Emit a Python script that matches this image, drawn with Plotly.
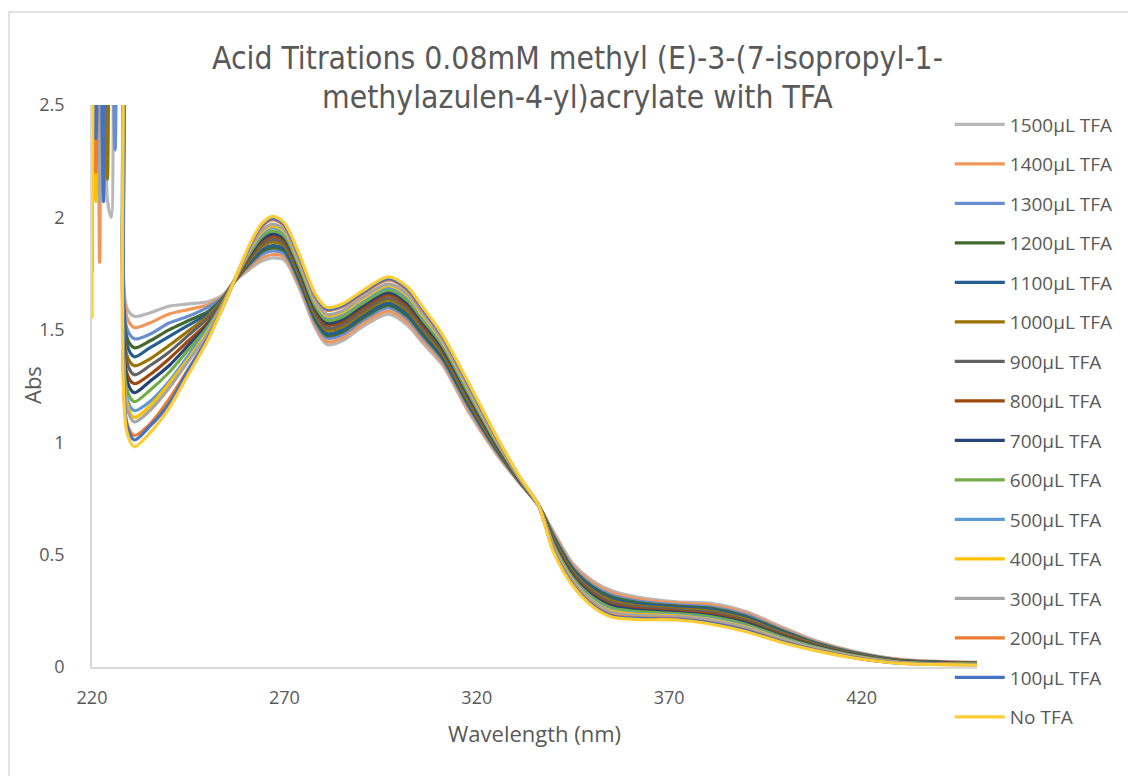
import plotly.graph_objects as go

# Wavelength grid (nm); 220-228 is the noisy solvent cut-off region
wavelength_nm = [220, 221, 222, 223, 224, 225, 226, 227, 228,
                 229, 231, 235, 240, 245, 250, 254, 257, 261, 264, 267, 270, 274, 278, 281, 285,
                 290, 297, 302, 306, 311, 318, 325, 331, 336, 340, 345, 350, 355, 362, 372, 381,
                 390, 399, 408, 418, 430, 450]

# Absorbance for each amount of TFA added
abs_1500 = [3.05, 3.0, 3.1, 3.05, 2.08, 2.0, 3.05, 2.95, 2.9,
            1.60, 1.56, 1.575, 1.605, 1.615, 1.625, 1.655, 1.715, 1.77, 1.805, 1.82, 1.81, 1.68, 1.51, 1.435, 1.45,
            1.51, 1.57, 1.52, 1.44, 1.345, 1.13, 0.95, 0.82, 0.72, 0.60, 0.46, 0.385, 0.34, 0.31, 0.29, 0.283,
            0.247, 0.18, 0.118, 0.07, 0.034, 0.021]
abs_1400 = [3.0, 3.1, 1.80, 3.05, 3.0, 3.1, 2.95, 3.0, 2.9,
            1.56, 1.51, 1.53, 1.57, 1.59, 1.61, 1.65, 1.715, 1.779, 1.818, 1.835, 1.823, 1.692, 1.522, 1.448, 1.463,
            1.523, 1.583, 1.534, 1.453, 1.356, 1.14, 0.956, 0.822, 0.72, 0.593, 0.452, 0.376, 0.331, 0.302, 0.284, 0.276,
            0.24, 0.174, 0.114, 0.068, 0.033, 0.02]
abs_1300 = [3.1, 3.0, 3.05, 2.95, 3.1, 3.0, 2.3, 2.95, 2.9,
            1.51, 1.46, 1.48, 1.53, 1.56, 1.60, 1.645, 1.715, 1.789, 1.833, 1.851, 1.838, 1.705, 1.535, 1.463, 1.478,
            1.537, 1.598, 1.549, 1.467, 1.368, 1.152, 0.964, 0.825, 0.72, 0.585, 0.443, 0.365, 0.32, 0.293, 0.276, 0.267,
            0.232, 0.168, 0.11, 0.065, 0.031, 0.019]
abs_1200 = [3.0, 3.05, 2.95, 3.1, 3.0, 3.05, 2.95, 3.1, 2.9,
            1.47, 1.42, 1.45, 1.50, 1.54, 1.58, 1.64, 1.715, 1.796, 1.845, 1.864, 1.85, 1.716, 1.546, 1.475, 1.49,
            1.548, 1.61, 1.561, 1.478, 1.377, 1.161, 0.969, 0.827, 0.72, 0.578, 0.436, 0.357, 0.312, 0.286, 0.271, 0.261,
            0.225, 0.163, 0.107, 0.063, 0.03, 0.018]
abs_1100 = [3.05, 2.95, 3.1, 3.0, 3.05, 2.95, 3.1, 3.0, 2.9,
            1.44, 1.38, 1.42, 1.47, 1.52, 1.57, 1.64, 1.715, 1.803, 1.854, 1.875, 1.859, 1.725, 1.555, 1.484, 1.499,
            1.558, 1.619, 1.571, 1.488, 1.385, 1.169, 0.974, 0.829, 0.72, 0.573, 0.43, 0.351, 0.305, 0.28, 0.266, 0.255,
            0.22, 0.159, 0.105, 0.061, 0.029, 0.017]
abs_1000 = [3.0, 3.1, 3.0, 3.05, 2.17, 3.1, 3.0, 2.95, 2.9,
            1.39, 1.34, 1.37, 1.43, 1.495, 1.56, 1.635, 1.715, 1.812, 1.868, 1.89, 1.873, 1.737, 1.567, 1.498, 1.513,
            1.571, 1.633, 1.585, 1.501, 1.396, 1.179, 0.98, 0.831, 0.72, 0.566, 0.422, 0.341, 0.295, 0.272, 0.259, 0.248,
            0.213, 0.153, 0.101, 0.059, 0.027, 0.016]
abs_900 = [3.1, 3.0, 2.95, 3.05, 3.1, 3.0, 2.95, 3.05, 2.9,
           1.36, 1.30, 1.34, 1.40, 1.475, 1.55, 1.63, 1.715, 1.819, 1.878, 1.902, 1.883, 1.747, 1.577, 1.508, 1.523,
           1.581, 1.643, 1.596, 1.511, 1.405, 1.188, 0.986, 0.833, 0.72, 0.56, 0.416, 0.334, 0.287, 0.266, 0.254, 0.242,
           0.207, 0.149, 0.098, 0.057, 0.026, 0.016]
abs_800 = [3.0, 3.05, 3.1, 2.95, 3.0, 3.05, 3.1, 3.0, 2.9,
           1.31, 1.26, 1.30, 1.37, 1.45, 1.53, 1.625, 1.715, 1.827, 1.891, 1.916, 1.896, 1.758, 1.588, 1.521, 1.536,
           1.593, 1.656, 1.608, 1.523, 1.415, 1.198, 0.992, 0.836, 0.72, 0.553, 0.408, 0.325, 0.279, 0.259, 0.248, 0.235,
           0.2, 0.144, 0.095, 0.054, 0.025, 0.015]
abs_700 = [1.76, 3.05, 3.0, 3.1, 2.95, 3.0, 3.1, 3.0, 2.9,
           1.28, 1.22, 1.27, 1.34, 1.43, 1.52, 1.62, 1.72, 1.834, 1.901, 1.927, 1.906, 1.767, 1.597, 1.531, 1.546,
           1.603, 1.666, 1.619, 1.533, 1.423, 1.205, 0.996, 0.837, 0.72, 0.548, 0.402, 0.318, 0.272, 0.253, 0.243, 0.229,
           0.195, 0.139, 0.092, 0.053, 0.024, 0.014]
abs_600 = [3.05, 3.0, 3.1, 3.0, 2.95, 3.1, 3.0, 3.05, 2.9,
           1.24, 1.18, 1.23, 1.31, 1.41, 1.51, 1.62, 1.72, 1.841, 1.912, 1.94, 1.917, 1.777, 1.607, 1.542, 1.557,
           1.614, 1.677, 1.63, 1.544, 1.433, 1.214, 1.002, 0.84, 0.72, 0.542, 0.395, 0.31, 0.263, 0.246, 0.237, 0.223,
           0.189, 0.135, 0.089, 0.051, 0.022, 0.013]
abs_500 = [3.0, 3.1, 3.05, 2.95, 3.1, 3.0, 3.05, 2.95, 2.9,
           1.20, 1.14, 1.18, 1.27, 1.385, 1.50, 1.615, 1.72, 1.85, 1.925, 1.955, 1.93, 1.789, 1.619, 1.555, 1.57,
           1.627, 1.69, 1.644, 1.557, 1.444, 1.225, 1.008, 0.842, 0.72, 0.534, 0.387, 0.301, 0.254, 0.238, 0.231, 0.215,
           0.181, 0.129, 0.085, 0.048, 0.021, 0.012]
abs_400 = [3.1, 2.07, 3.0, 3.05, 3.1, 2.95, 3.0, 3.1, 2.9,
           1.18, 1.11, 1.16, 1.26, 1.37, 1.49, 1.61, 1.72, 1.855, 1.932, 1.962, 1.937, 1.795, 1.625, 1.562, 1.577,
           1.633, 1.697, 1.651, 1.563, 1.449, 1.23, 1.012, 0.843, 0.72, 0.531, 0.383, 0.296, 0.249, 0.234, 0.228, 0.211,
           0.178, 0.126, 0.083, 0.047, 0.02, 0.012]
abs_300 = [3.0, 3.1, 2.07, 3.05, 3.0, 3.1, 2.95, 3.0, 2.9,
           1.16, 1.09, 1.14, 1.24, 1.36, 1.48, 1.61, 1.72, 1.859, 1.939, 1.97, 1.944, 1.801, 1.631, 1.569, 1.584,
           1.64, 1.704, 1.658, 1.57, 1.454, 1.235, 1.015, 0.844, 0.72, 0.527, 0.379, 0.292, 0.244, 0.23, 0.224, 0.208,
           0.174, 0.123, 0.082, 0.046, 0.019, 0.011]
abs_200 = [2.9, 2.2, 3.1, 3.0, 2.95, 3.1, 3.05, 3.0, 2.9,
           1.09, 1.03, 1.08, 1.19, 1.325, 1.46, 1.605, 1.72, 1.871, 1.957, 1.99, 1.962, 1.818, 1.648, 1.587, 1.602,
           1.657, 1.722, 1.676, 1.587, 1.469, 1.25, 1.024, 0.848, 0.72, 0.517, 0.368, 0.279, 0.231, 0.219, 0.215, 0.197,
           0.164, 0.116, 0.077, 0.042, 0.017, 0.01]
abs_100 = [3.0, 2.35, 3.1, 2.07, 3.15, 3.0, 3.1, 2.95, 2.9,
           1.08, 1.01, 1.07, 1.17, 1.32, 1.46, 1.60, 1.72, 1.874, 1.962, 1.996, 1.967, 1.822, 1.652, 1.592, 1.607,
           1.662, 1.727, 1.681, 1.592, 1.473, 1.253, 1.026, 0.848, 0.72, 0.515, 0.365, 0.276, 0.228, 0.216, 0.213, 0.195,
           0.162, 0.114, 0.075, 0.042, 0.017, 0.01]
abs_0 = [1.55, 3.05, 2.95, 3.15, 3.0, 3.2, 3.05, 3.1, 2.9,
         1.05, 0.98, 1.04, 1.15, 1.30, 1.45, 1.60, 1.72, 1.88, 1.97, 2.005, 1.975, 1.83, 1.66, 1.60, 1.615,
         1.67, 1.735, 1.69, 1.60, 1.48, 1.26, 1.03, 0.85, 0.72, 0.51, 0.36, 0.27, 0.222, 0.211, 0.209, 0.19,
         0.157, 0.11, 0.073, 0.04, 0.016, 0.009]

series_names = ["1500µL TFA", "1400µL TFA", "1300µL TFA", "1200µL TFA", "1100µL TFA",
                "1000µL TFA", "900µL TFA", "800µL TFA", "700µL TFA", "600µL TFA",
                "500µL TFA", "400µL TFA", "300µL TFA", "200µL TFA", "100µL TFA", "No TFA"]
series_values = [abs_1500, abs_1400, abs_1300, abs_1200, abs_1100, abs_1000, abs_900, abs_800,
                 abs_700, abs_600, abs_500, abs_400, abs_300, abs_200, abs_100, abs_0]
series_colors = ["#B7B7B7", "#F1975A", "#698ED0", "#43682B", "#255E91", "#997300", "#636363",
                 "#9E480E", "#264478", "#70AD47", "#5B9BD5", "#FFC000", "#A5A5A5", "#ED7D31",
                 "#4472C4", "#FFCD33"]

TEXT = "#595959"
BODY_FONT = "Open Sans"
TITLE_FONT = "DejaVu Sans Condensed, Roboto Condensed, Roboto"

fig = go.Figure()
for name, vals, col in zip(series_names, series_values, series_colors):
    fig.add_trace(go.Scatter(
        x=wavelength_nm, y=vals, name=name, mode="lines",
        line=dict(color=col, width=3.2, shape="spline", smoothing=0.8),
        legendgroup=name,
    ))

fig.update_layout(
    width=1128, height=776,
    margin=dict(l=92, r=151, t=105, b=109, autoexpand=False),
    paper_bgcolor="white", plot_bgcolor="white",
    showlegend=True,
    legend=dict(
        xref="container", yref="container", x=0.842, y=0.864,
        xanchor="left", yanchor="top", maxheight=720,
        font=dict(family=BODY_FONT, size=19, color=TEXT),
        tracegroupgap=11.8, itemwidth=50, bgcolor="rgba(0,0,0,0)",
    ),
    xaxis=dict(
        range=[220, 450], tick0=220, dtick=50, showgrid=False, zeroline=False,
        showline=True, linecolor="#D9D9D9", linewidth=1.5, ticks="",
        tickfont=dict(family=BODY_FONT, size=18, color=TEXT), ticklabelstandoff=14,
    ),
    yaxis=dict(
        range=[0, 2.5], dtick=0.5, showgrid=False, zeroline=False,
        showline=True, linecolor="#D9D9D9", linewidth=1.5, ticks="",
        tickfont=dict(family=BODY_FONT, size=18, color=TEXT), ticklabelstandoff=22,
    ),
    shapes=[dict(
        type="rect", xref="paper", yref="paper",
        x0=(9 - 92) / 885, x1=1.3, y0=-0.3, y1=(667 - 12) / 562,
        line=dict(color="#D9D9D9", width=1.5), fillcolor="rgba(0,0,0,0)", layer="below",
    )],
    annotations=[
        dict(text="Acid Titrations 0.08mM methyl (E)-3-(7-isopropyl-1-", xref="paper", yref="paper",
             x=(577 - 92) / 885, y=(667 - 58) / 562, showarrow=False, xanchor="center", yanchor="middle",
             font=dict(family=TITLE_FONT, size=31.6, color=TEXT, weight=300)),
        dict(text="methylazulen-4-yl)acrylate with TFA", xref="paper", yref="paper",
             x=(577 - 92) / 885, y=(667 - 97) / 562, showarrow=False, xanchor="center", yanchor="middle",
             font=dict(family=TITLE_FONT, size=31.6, color=TEXT, weight=300)),
        dict(text="Wavelength (nm)", xref="paper", yref="paper",
             x=(534 - 92) / 885, y=(667 - 733) / 562, showarrow=False, xanchor="center", yanchor="middle",
             font=dict(family=BODY_FONT, size=22, color=TEXT)),
        dict(text="Abs", xref="paper", yref="paper", textangle=-90,
             x=(32 - 92) / 885, y=(667 - 385) / 562, showarrow=False, xanchor="center", yanchor="middle",
             font=dict(family=BODY_FONT, size=22, color=TEXT)),
    ],
)

fig.write_html("out.html")
